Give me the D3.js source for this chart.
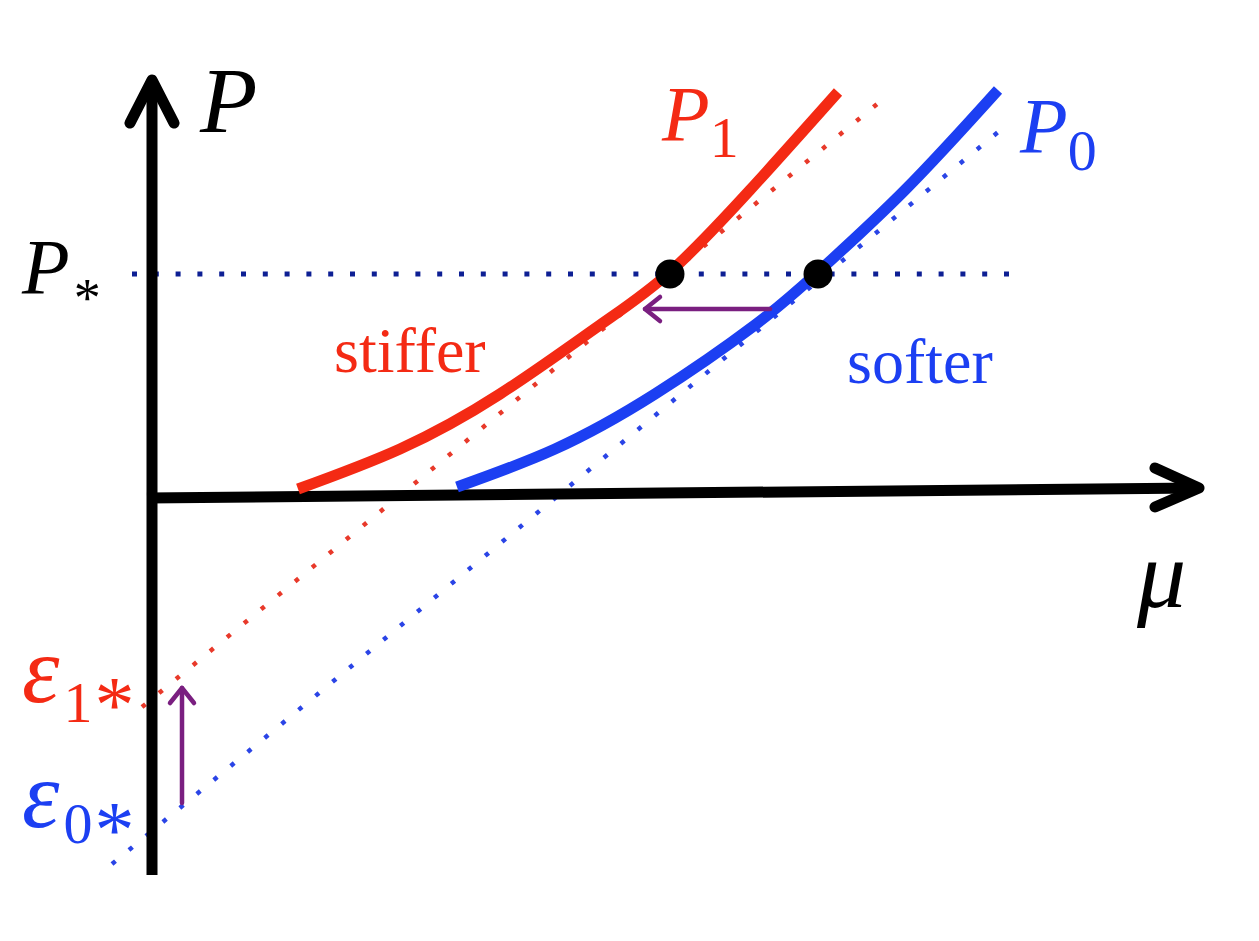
<!DOCTYPE html>
<html><head><meta charset="utf-8">
<script src="https://cdn.jsdelivr.net/npm/d3@7"></script>
<style>body{margin:0;background:#fff}svg{display:block}</style>
</head><body><svg id="c" width="1259" height="941"></svg>
<script>
// ---- data (mu, P) ----
const p1Mu = [1.43, 2.45, 3.45, 4.45, 5.15, 5.95, 6.83];
const p1P  = [0.04, 0.44, 0.99, 1.68, 2.21, 3.03, 4.01];
const p0Mu = [3.02, 4.00, 5.00, 6.00, 6.63, 7.50, 8.43];
const p0P  = [0.06, 0.44, 0.99, 1.68, 2.21, 3.03, 4.03];
const tangent1Mu = [-0.13, 7.27];
const tangent1P  = [-2.14, 3.93];
const tangent0Mu = [-0.43, 8.48];
const tangent0P  = [-3.71, 3.65];
const pStar = 2.19;
const pStarMu = [-0.23, 8.67];
const crossMu = [5.15, 6.63];       // operating points on P1, P0 at P*
const shiftArrowMu = [6.15, 4.90]; const shiftArrowP = 1.84;
const epsArrowMu = 0.27; const epsArrowP = [-3.10, -1.95];

const svg = d3.select('#c');
const x = d3.scaleLinear().domain([0, 10]).range([155, 1155]);
const y = d3.scaleLinear().domain([0, 4]).range([493, 93]);
const line = d3.line().x(d => x(d[0])).y(d => y(d[1]));
const zip = (a, b) => a.map((v, i) => [v, b[i]]);

const RED = '#f42a14', BLUE = '#1c3ff2', NAVY = '#0d1f94', PURPLE = '#7a1f80';
const serif = '"Liberation Serif", "Times New Roman", serif';

// dotted lines
svg.append('path').attr('d', line(zip(pStarMu, [pStar, pStar])))
  .attr('stroke', NAVY).attr('stroke-width', 5).attr('stroke-dasharray', '5 16.8').attr('fill', 'none');
svg.append('path').attr('d', line(zip(tangent1Mu, tangent1P)))
  .attr('stroke', '#e8392a').attr('stroke-width', 4.5).attr('stroke-dasharray', '4.5 17.5').attr('fill', 'none');
svg.append('path').attr('d', line(zip(tangent0Mu, tangent0P)))
  .attr('stroke', '#2a44e6').attr('stroke-width', 4.5).attr('stroke-dasharray', '4.5 17.5').attr('fill', 'none');

// axes
const axisLine = d3.line();
svg.append('path').attr('d', axisLine([[x(-0.03), y(-3.82)], [x(-0.03), y(4.10)]]))
  .attr('stroke', '#000').attr('stroke-width', 11).attr('fill', 'none');
svg.append('path').attr('d', axisLine([[x(-0.25), y(3.70)], [x(-0.03), y(4.13)], [x(0.19), y(3.70)]]))
  .attr('stroke', '#000').attr('stroke-width', 11).attr('fill', 'none')
  .attr('stroke-linecap', 'round').attr('stroke-linejoin', 'round');
svg.append('path').attr('d', axisLine([[x(-0.08), y(-0.05)], [x(10.42), y(0.05)]]))
  .attr('stroke', '#000').attr('stroke-width', 11).attr('fill', 'none');
svg.append('path').attr('d', axisLine([[x(10.0), y(0.25)], [x(10.44), y(0.05)], [x(10.0), y(-0.14)]]))
  .attr('stroke', '#000').attr('stroke-width', 11).attr('fill', 'none')
  .attr('stroke-linecap', 'round').attr('stroke-linejoin', 'round');

// curves
const curve = d3.line().x(d => x(d[0])).y(d => y(d[1])).curve(d3.curveNatural);
svg.append('path').attr('d', curve(zip(p1Mu, p1P)))
  .attr('stroke', RED).attr('stroke-width', 11).attr('fill', 'none');
svg.append('path').attr('d', curve(zip(p0Mu, p0P)))
  .attr('stroke', BLUE).attr('stroke-width', 11).attr('fill', 'none');

// operating points
svg.selectAll('circle.pt').data(crossMu).join('circle')
  .attr('cx', d => x(d)).attr('cy', y(pStar)).attr('r', 14.5).attr('fill', '#000');

// purple arrows
const pa = (pts) => svg.append('path').attr('d', axisLine(pts))
  .attr('stroke', PURPLE).attr('stroke-width', 4.5).attr('fill', 'none')
  .attr('stroke-linecap', 'round').attr('stroke-linejoin', 'round');
pa([[x(shiftArrowMu[0]), y(shiftArrowP)], [x(shiftArrowMu[1]), y(shiftArrowP)]]);
pa([[x(shiftArrowMu[1]) + 15, y(shiftArrowP) - 12], [x(shiftArrowMu[1]), y(shiftArrowP)], [x(shiftArrowMu[1]) + 15, y(shiftArrowP) + 12]]);
pa([[x(epsArrowMu), y(epsArrowP[0])], [x(epsArrowMu), y(epsArrowP[1])]]);
pa([[x(epsArrowMu) - 12, y(epsArrowP[1]) + 15], [x(epsArrowMu), y(epsArrowP[1])], [x(epsArrowMu) + 12, y(epsArrowP[1]) + 15]]);

// labels: parts = [text, size, italic, dx, dy]
function label(px, py, color, parts) {
  const el = svg.append('text').attr('x', px).attr('y', py)
    .attr('font-family', serif).attr('fill', color);
  parts.forEach(([txt, size, italic, dx, dy]) => {
    el.append('tspan').text(txt).attr('font-size', size)
      .attr('font-style', italic ? 'italic' : 'normal')
      .attr('dx', dx || 0).attr('dy', dy || 0);
  });
  return el;
}
label(200, 132, '#000', [['P', 94, true]]);
label(22, 293, '#000', [['P', 78, true], ['*', 54, false, 4, 23]]);
label(662, 140, RED, [['P', 78, true], ['1', 58, false, 0, 17]]);
label(1020, 152, BLUE, [['P', 78, true], ['0', 58, false, 0, 18]]);
label(334, 372, RED, [['stiffer', 64, false]]);
label(847, 383, BLUE, [['softer', 64, false]]);
label(1137, 607, '#000', [['\u03bc', 98, true]]);
label(22, 702, RED, [['\u03b5', 95, true], ['1', 58, false, 4, 20], ['*', 80, false, 2, 10]]);
label(22, 827, BLUE, [['\u03b5', 95, true], ['0', 58, false, 4, 16], ['*', 80, false, 2, 14]]);
</script></body></html>
